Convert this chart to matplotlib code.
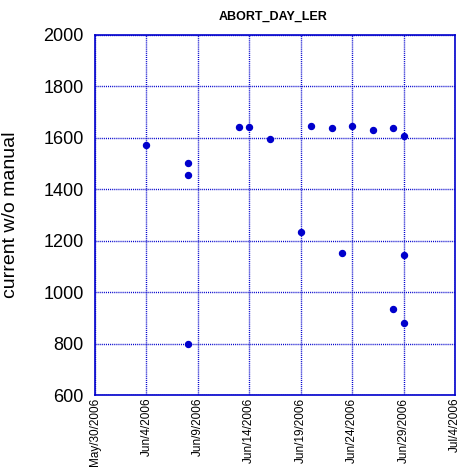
import datetime as dt
import matplotlib
matplotlib.use('Agg')
import matplotlib.pyplot as plt

dates = ['2006-06-04', '2006-06-08', '2006-06-08', '2006-06-08', '2006-06-13',
         '2006-06-14', '2006-06-16', '2006-06-19', '2006-06-20', '2006-06-22',
         '2006-06-23', '2006-06-24', '2006-06-26', '2006-06-28', '2006-06-28',
         '2006-06-29', '2006-06-29', '2006-06-29']
values = [1571, 1501, 1454, 797, 1641,
          1641, 1594, 1234, 1645, 1637,
          1151, 1645, 1629, 1637, 933,
          1606, 1143, 879]
tick_dates = ['2006-05-30', '2006-06-04', '2006-06-09', '2006-06-14',
              '2006-06-19', '2006-06-24', '2006-06-29', '2006-07-04']
tick_labels = ['May/30/2006', 'Jun/4/2006', 'Jun/9/2006', 'Jun/14/2006',
               'Jun/19/2006', 'Jun/24/2006', 'Jun/29/2006', 'Jul/4/2006']

plt.rcParams['font.family'] = ['Liberation Sans Narrow', 'Liberation Sans', 'DejaVu Sans']

x = [dt.datetime.strptime(d, '%Y-%m-%d') for d in dates]
xt = [dt.datetime.strptime(d, '%Y-%m-%d') for d in tick_dates]
blue = '#0000cc'

fig = plt.figure(figsize=(4.63, 4.72), dpi=100)
ax = fig.add_axes([0.205, 0.163, 0.778, 0.763])
ax.plot(x, values, 'o', color=blue, markersize=4.3, linestyle='none')

ax.set_xlim(xt[0], xt[-1])
ax.set_ylim(600, 2000)
ax.set_xticks(xt)
ax.set_xticklabels(tick_labels, rotation=90, fontsize=8.5)
ax.set_yticks(range(600, 2001, 200))
ax.set_yticklabels([str(v) for v in range(600, 2001, 200)], fontsize=13,
                   family=['Liberation Sans', 'DejaVu Sans'])
ax.tick_params(axis='x', length=0, pad=2)
ax.tick_params(axis='y', length=0, pad=8)
ax.grid(True, color=blue, linestyle=(0, (0.75, 0.75)), linewidth=1)
for s in ax.spines.values():
    s.set_color(blue)
    s.set_linewidth(1.2)

ax.set_ylabel('current w/o manual', fontsize=14, family=['Liberation Sans', 'DejaVu Sans'])
ax.yaxis.set_label_coords(-0.212, 0.5)
fig.text(0.59, 0.965, 'ABORT_DAY_LER', ha='center', va='center', fontsize=9,
         fontweight='bold', family=['Liberation Sans', 'DejaVu Sans'])

fig.savefig('out.png', dpi=100)
